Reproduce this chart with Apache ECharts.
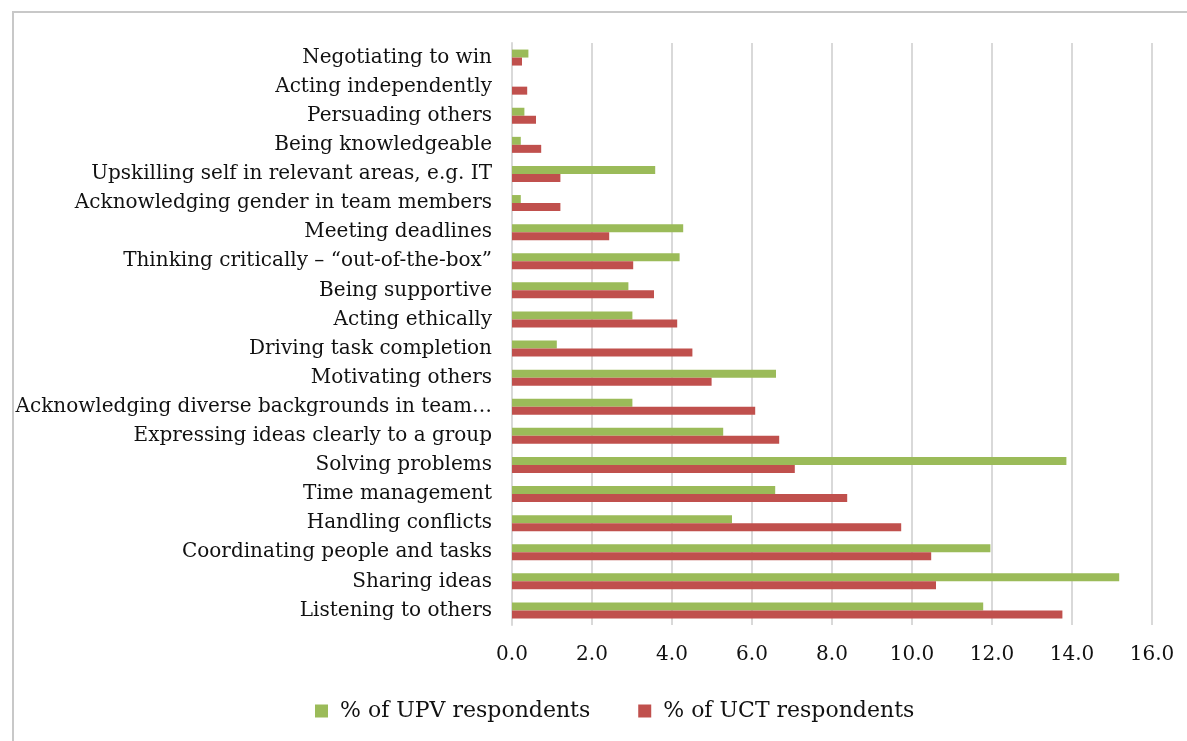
<!DOCTYPE html>
<html>
<head>
<meta charset="utf-8">
<script src="https://cdn.jsdelivr.net/npm/echarts@6/dist/echarts.min.js"></script>
<style>
  html,body{margin:0;padding:0;background:#fff;}
  #chart{width:1187px;height:741px;}
</style>
</head>
<body>
<div id="chart"></div>
<script>
// categories listed top to bottom, as in the figure
var skills = [
  "Negotiating to win",
  "Acting independently",
  "Persuading others",
  "Being knowledgeable",
  "Upskilling self in relevant areas, e.g. IT",
  "Acknowledging gender in team members",
  "Meeting deadlines",
  "Thinking critically \u2013 \u201cout-of-the-box\u201d",
  "Being supportive",
  "Acting ethically",
  "Driving task completion",
  "Motivating others",
  "Acknowledging diverse backgrounds in team\u2026",
  "Expressing ideas clearly to a group",
  "Solving problems",
  "Time management",
  "Handling conflicts",
  "Coordinating people and tasks",
  "Sharing ideas",
  "Listening to others"
];
var upv = [0.41, 0, 0.31, 0.22, 3.58, 0.22, 4.28, 4.19, 2.91, 3.01, 1.12, 6.6, 3.01, 5.28, 13.86, 6.58, 5.5, 11.96, 15.18, 11.78];
var uct = [0.25, 0.38, 0.6, 0.73, 1.21, 1.21, 2.43, 3.03, 3.55, 4.13, 4.51, 4.99, 6.08, 6.68, 7.07, 8.38, 9.73, 10.48, 10.6, 13.76];
var seriesNames = ["% of UPV respondents", "% of UCT respondents"];

var C = { upv:"#9bbb59", uct:"#c0504d", grid:"#d9d9d9", text:"#111", frame:"#c8c8c8" };
var FONT = "'DejaVu Serif', serif";

var ch = echarts.init(document.getElementById("chart"), null, {renderer:"canvas"});
ch.setOption({
  animation:false,
  backgroundColor:"#fff",
  textStyle:{fontFamily:FONT},
  graphic:[{ type:"rect", silent:true, z:-1,
    shape:{x:13, y:12, width:1300, height:900},
    style:{fill:"none", stroke:C.frame, lineWidth:2} }],
  grid:{ left:512, right:35, top:43, bottom:116, containLabel:false, outerBoundsMode:"none" },
  legend:{
    top:695, left:310, itemGap:48, itemWidth:13, itemHeight:13,
    icon:"rect",
    textStyle:{fontFamily:FONT, fontSize:22, color:C.text, padding:[0,0,0,7]},
    data:seriesNames
  },
  xAxis:{
    type:"value", min:0, max:16, interval:2,
    axisLine:{show:false}, axisTick:{show:false},
    axisLabel:{color:C.text, fontSize:20, fontFamily:FONT, margin:20,
      formatter:function(v){ return v.toFixed(1); }},
    splitLine:{lineStyle:{color:C.grid, width:2}}
  },
  yAxis:{
    type:"category", data:skills, inverse:true,
    axisLine:{lineStyle:{color:C.grid, width:2}},
    axisTick:{show:false},
    axisLabel:{color:C.text, fontSize:20, fontFamily:FONT, margin:20, interval:0}
  },
  series:[
    { type:"bar", name:seriesNames[0], data:upv, barWidth:8, barGap:"0%",
      itemStyle:{color:C.upv}, emphasis:{disabled:true} },
    { type:"bar", name:seriesNames[1], data:uct, barWidth:8, barGap:"0%",
      itemStyle:{color:C.uct}, emphasis:{disabled:true} }
  ]
});
</script>
</body>
</html>
